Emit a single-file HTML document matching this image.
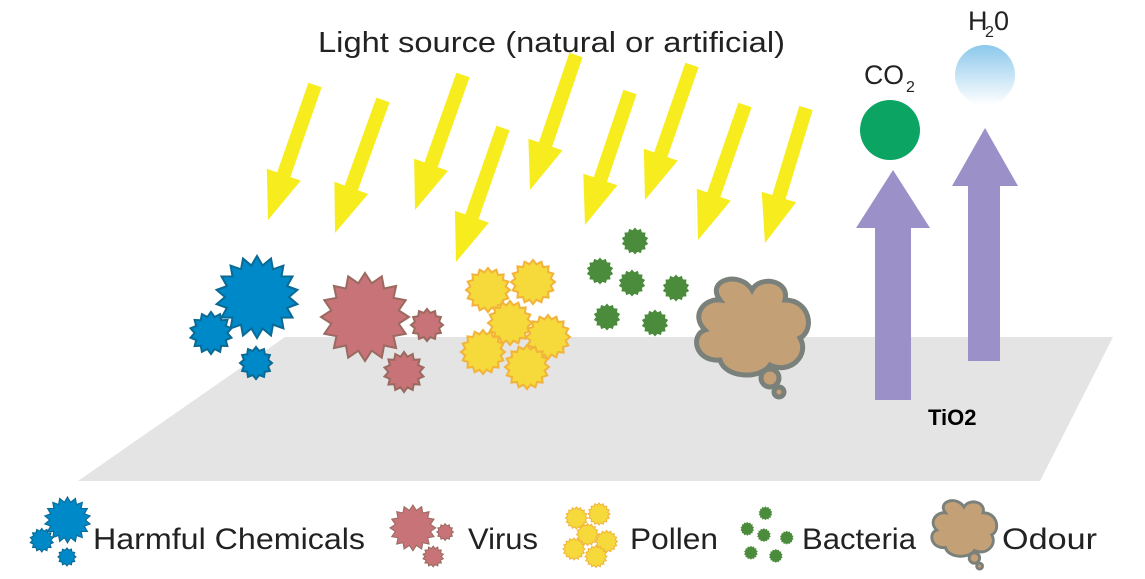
<!DOCTYPE html>
<html><head><meta charset="utf-8"><style>
html,body{margin:0;padding:0;background:#fff;}
svg{display:block;}
text{font-family:"Liberation Sans",sans-serif;fill:#222;}
</style></head><body>
<svg id="s" width="1145" height="579" viewBox="0 0 1145 579" xmlns="http://www.w3.org/2000/svg">
<defs>
<linearGradient id="h2o" x1="0" y1="0" x2="0" y2="1">
<stop offset="0" stop-color="#8cc8ec"/><stop offset="1" stop-color="#ffffff"/>
</linearGradient>
</defs>
<polygon points="285,337 1113,337 1040,481 78,481" fill="#e4e4e4"/>
<g id="arrows" fill="#f7ec1e"></g>
<g fill="#9b91c8">
<rect x="875" y="226" width="36" height="174"/>
<polygon points="856,228 930,228 893,170"/>
<rect x="968" y="183" width="32" height="178"/>
<polygon points="952,186 1018,186 985,128"/>
</g>
<circle cx="890" cy="130" r="30" fill="#0ba463"/>
<circle cx="985" cy="75" r="30" fill="url(#h2o)"/>
<text x="864" y="84" font-size="27" textLength="40" lengthAdjust="spacingAndGlyphs">CO</text><text x="906" y="92" font-size="16">2</text>
<text x="968" y="30" font-size="27">H</text><text x="985" y="37" font-size="16">2</text><text x="994" y="30" font-size="27">0</text>
<text x="318" y="52" font-size="29" textLength="467" lengthAdjust="spacingAndGlyphs">Light source (natural or artificial)</text>
<text x="928" y="425" font-size="22" font-weight="bold" style="fill:#000">TiO2</text>
<g id="parts"></g>
<g font-size="30">
<text x="93" y="549" textLength="272" lengthAdjust="spacingAndGlyphs">Harmful Chemicals</text>
<text x="468" y="549" textLength="70" lengthAdjust="spacingAndGlyphs">Virus</text>
<text x="630" y="549" textLength="88" lengthAdjust="spacingAndGlyphs">Pollen</text>
<text x="802" y="549" textLength="114" lengthAdjust="spacingAndGlyphs">Bacteria</text>
<text x="1002" y="549" textLength="95" lengthAdjust="spacingAndGlyphs">Odour</text>
</g>
</svg>
<script>
var NS="http://www.w3.org/2000/svg";
function el(p,t,a){var e=document.createElementNS(NS,t);for(var k in a)e.setAttribute(k,a[k]);p.appendChild(e);return e;}
var A=document.getElementById('arrows');
[[315,85,268,220],[383,100,335,233],[463,75,415,210],[503,128,456,262],[576,55,530,190],[630,92,585,225],[692,65,645,200],[745,105,698,240],[806,108,765,243]].forEach(function(a){
 var dx=a[2]-a[0],dy=a[3]-a[1],L=Math.hypot(dx,dy),ux=dx/L,uy=dy/L,nx=-uy,ny=ux;
 var hl=48,sw=7,hw=18;var bx=a[2]-ux*hl,by=a[3]-uy*hl;
 var pts=[[a[0]+nx*sw,a[1]+ny*sw],[bx+nx*sw,by+ny*sw],[bx+nx*hw,by+ny*hw],[a[2],a[3]],[bx-nx*hw,by-ny*hw],[bx-nx*sw,by-ny*sw],[a[0]-nx*sw,a[1]-ny*sw]];
 el(A,'polygon',{points:pts.map(function(p){return p[0].toFixed(1)+','+p[1].toFixed(1)}).join(' ')});
});
var P=document.getElementById('parts');
function star(cx,cy,r,n,fill,stroke,sw,ratio){var pts=[];for(var i=0;i<2*n;i++){var rr=i%2?r*(ratio||0.78):r;var t=Math.PI*i/n-Math.PI/2;pts.push((cx+rr*Math.cos(t)).toFixed(1)+','+(cy+rr*Math.sin(t)).toFixed(1));}
 el(P,'polygon',{points:pts.join(' '),fill:fill,stroke:stroke,'stroke-width':sw});}
function draw(s,tx,ty,set){
 function S(cx,cy,r,n,c,ratio){star(tx+cx*s,ty+cy*s,r*s,n,c[0],c[1],Math.max(1,2*s),ratio);}
 var B=['#0089c8','#0a6a94'],R=['#c87377','#9a6a60'],Y=['#f6d93a','#f2b33a'],G=['#4b8c3c','#4b8c3c'];
 if(set.b){S(257,297,41,18,B);S(211,333,21,14,B);S(256,363,16,12,B);}
 if(set.r){S(365,317,44,16,R);S(427,325,16,12,R);S(404,372,20,14,R);}
 if(set.y){[[488,290],[533,282],[510,323],[548,337],[483,352],[527,367]].forEach(function(p){S(p[0],p[1],22,16,Y,0.82);});}
 if(set.g){[[635,241],[600,271],[632,283],[676,288],[607,317],[655,323]].forEach(function(p){S(p[0],p[1],12,14,G,0.82);});}
 if(set.o){var g=el(P,'g',{transform:'translate('+tx+','+ty+') scale('+s+')',fill:'#c4a077',stroke:'#7a807a','stroke-width':5});
  el(g,'path',{d:'M720,300 C705,280 740,270 752,290 C760,275 790,280 785,300 C810,300 815,330 800,338 C810,355 790,375 770,365 C760,380 725,378 720,360 C695,362 690,335 705,330 C690,315 705,298 720,300 Z'});
  el(g,'circle',{cx:770,cy:378,r:9});el(g,'circle',{cx:779,cy:392,r:5});}
}
draw(1,0,0,{b:1,r:1,y:1,g:1,o:1});
function leg(set,minx,miny,s,tx,ty){draw(s,tx-minx*s,ty-miny*s,set);}
leg({b:1},190,256,0.56,30,497);
leg({r:1},321,273,0.52,390,505);
leg({y:1},461,260,0.5,563,503);
leg({g:1},588,229,0.52,741,507);
leg({o:1},690,278,0.58,928,500);
</script>
</body></html>
